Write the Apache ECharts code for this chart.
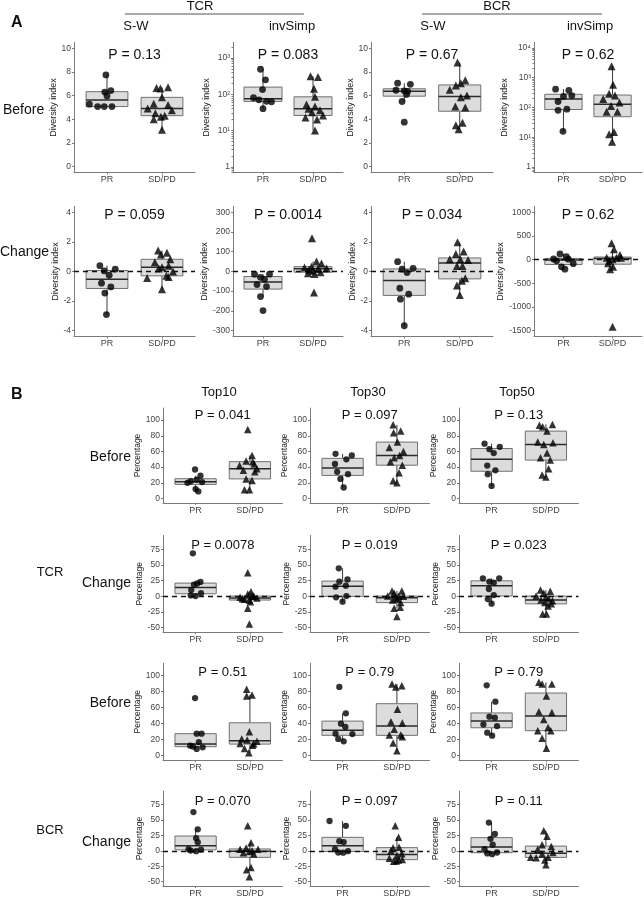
<!DOCTYPE html>
<html><head><meta charset="utf-8">
<script src="https://cdn.jsdelivr.net/npm/echarts@6/dist/echarts.min.js"></script>
<style>html,body{margin:0;padding:0;background:#fff}#c{width:644px;height:898px}</style>
</head><body><div id="c"></div>
<script>
// ---------------- DATA ----------------
const groups = ['PR', 'SD/PD'];

// Panel A: diversity indices, Before
const tcrSWBeforePR = [7.75, 6.42, 6.3, 5.97, 5.27, 5.07, 5.07, 5.07];
const tcrSWBeforePRJit = [-0.02, 0.07, -0.04, 0.0, -0.32, -0.17, -0.05, 0.09];
const tcrSWBeforeSD = [6.7, 6.65, 6.6, 5.85, 5.3, 5.2, 4.9, 4.75, 4.5, 4.3, 4.2, 4.0, 3.1];
const tcrSWBeforeSDJit = [0.11, -0.1, -0.03, 0.0, -0.15, 0.11, -0.26, 0.18, -0.12, 0.05, -0.02, -0.15, 0.0];

const tcrInvBeforePR = [490, 250, 135, 80, 70, 64, 62, 40];
const tcrInvBeforePRJit = [-0.05, 0.05, -0.01, -0.19, -0.08, 0.07, 0.17, 0.0];
const tcrInvBeforeSD = [316, 300, 141, 85, 52, 46, 40, 36, 32, 26, 23, 20, 10];
const tcrInvBeforeSDJit = [-0.05, 0.1, 0.02, 0.04, -0.13, 0.04, -0.09, 0.14, -0.02, 0.2, -0.15, 0.08, 0.04];

const bcrSWBeforePR = [7.05, 6.95, 6.45, 6.4, 6.35, 6.1, 5.5, 3.75];
const bcrSWBeforePRJit = [-0.12, 0.11, -0.15, 0.0, 0.06, 0.04, -0.04, 0.0];
const bcrSWBeforeSD = [8.8, 7.3, 7.05, 6.85, 6.5, 6.0, 5.85, 5.07, 5.0, 3.7, 3.5, 3.15];
const bcrSWBeforeSDJit = [-0.04, 0.1, 0.02, -0.07, -0.18, 0.13, 0.02, -0.08, 0.1, 0.05, -0.07, -0.02];

const bcrInvBeforePR = [410, 370, 250, 234, 158, 87, 80, 15.8];
const bcrInvBeforePRJit = [-0.16, 0.11, 0.17, 0.0, -0.11, 0.07, -0.11, -0.01];
const bcrInvBeforeSD = [2400, 575, 288, 251, 190, 145, 112, 72, 72, 15.1, 12.6, 7.1];
const bcrInvBeforeSDJit = [-0.02, 0.01, -0.07, 0.05, -0.19, 0.14, -0.03, -0.12, 0.1, 0.03, -0.07, -0.01];

// Panel A: diversity indices, Change
const tcrSWChangePR = [0.39, 0.15, 0.03, -0.26, -0.8, -1.05, -1.47, -2.92];
const tcrSWChangePRJit = [-0.13, 0.15, -0.05, 0.04, -0.1, 0.07, -0.04, -0.01];
const tcrSWChangeSD = [1.41, 1.27, 1.15, 0.82, 0.62, 0.38, 0.28, 0.2, 0.0, -0.3, -0.38, -0.44, -1.2];
const tcrSWChangeSDJit = [-0.07, 0.09, -0.02, 0.15, -0.13, 0.12, 0.0, -0.06, 0.2, 0.08, 0.12, -0.27, 0.0];

const tcrInvChangePR = [-14, -14, -30, -40, -67, -77, -128, -199];
const tcrInvChangePRJit = [-0.17, 0.13, -0.05, 0.03, -0.12, 0.07, -0.05, 0.0];
const tcrInvChangeSD = [168, 50, 40, 24, 20, 16, 13, 8, 3, -4, -9, -13, -107];
const tcrInvChangeSDJit = [-0.02, 0.07, 0.17, -0.03, -0.17, 0.27, 0.1, -0.08, 0.0, 0.15, -0.1, 0.03, 0.02];

const bcrSWChangePR = [0.66, 0.21, 0.15, -0.08, -1.14, -1.54, -1.88, -3.68];
const bcrSWChangePRJit = [-0.12, 0.16, -0.04, 0.05, -0.08, 0.08, -0.07, 0.0];
const bcrSWChangeSD = [1.97, 1.34, 1.18, 0.82, 0.82, 0.78, 0.37, 0.37, -0.46, -0.64, -0.96, -1.59];
const bcrSWChangeSDJit = [-0.04, 0.07, -0.07, -0.18, 0.01, 0.15, -0.05, 0.05, 0.1, 0.04, -0.05, 0.0];

const bcrInvChangePR = [120, 63, 14, 10, -25, -85, -150, -200];
const bcrInvChangePRJit = [-0.07, 0.06, -0.2, 0.1, -0.14, 0.2, -0.04, 0.03];
const bcrInvChangeSD = [345, 218, 100, 42, 42, 42, 10, -20, -77, -150, -204, -1415];
const bcrInvChangeSDJit = [-0.02, 0.03, 0.15, -0.12, 0.08, 0.17, 0.0, -0.07, -0.09, 0.01, -0.05, 0.0];

// Panel B: clonality (percentage of top clones), TCR
const tcrTop10BeforePR = [37, 29, 24, 22, 21, 20, 12, 9];
const tcrTop10BeforePRJit = [-0.01, 0.09, 0.02, -0.09, 0.12, -0.15, 0.0, 0.05];
const tcrTop10BeforeSD = [88, 55, 48, 47, 44, 42, 38, 36, 34, 25, 23, 11, 11];
const tcrTop10BeforeSDJit = [-0.04, 0.04, -0.07, 0.05, 0.08, -0.19, 0.13, -0.12, 0.09, -0.07, 0.04, -0.1, -0.01];
const tcrTop30BeforePR = [57, 55, 50, 44, 34, 31, 25, 14];
const tcrTop30BeforePRJit = [-0.13, 0.17, 0.07, -0.14, -0.1, 0.1, -0.04, 0.02];
const tcrTop30BeforeSD = [94, 86, 84, 72, 65, 60, 55, 52, 47, 42.5, 33, 22.5, 20];
const tcrTop30BeforeSDJit = [-0.07, 0.07, -0.06, 0.01, -0.14, 0.12, 0.05, -0.05, -0.12, 0.1, 0.04, -0.07, 0.0];
const tcrTop50BeforePR = [70, 66, 63, 58, 42, 36, 31, 16];
const tcrTop50BeforePRJit = [-0.13, 0.15, -0.04, 0.04, -0.08, 0.07, -0.07, 0.0];
const tcrTop50BeforeSD = [94.5, 93.5, 91.5, 86, 72, 71, 69, 58, 52, 49, 38, 30, 27.5];
const tcrTop50BeforeSDJit = [0.12, -0.12, -0.06, 0.02, -0.15, 0.13, -0.04, 0.02, -0.1, 0.08, 0.05, -0.07, 0.0];

const tcrTop10ChangePR = [68.6, 23, 20.5, 18.5, 10, 5, 1.5, 0.5];
const tcrTop10ChangePRJit = [-0.05, 0.09, 0.03, -0.03, -0.08, 0.1, -0.09, 0.0];
const tcrTop10ChangeSD = [37.8, 7.4, 3.7, 0.5, 0, -1.6, -2.7, -4, -4.8, -5.9, -8.5, -19, -44];
const tcrTop10ChangeSDJit = [-0.04, 0.02, -0.04, 0.07, 0.04, -0.18, 0.13, -0.14, -0.1, -0.01, 0.01, -0.04, -0.01];
const tcrTop30ChangePR = [44.7, 27, 23.4, 17, 15.4, 0.5, -1.6, -8.5];
const tcrTop30ChangePRJit = [-0.07, 0.09, -0.06, 0.06, -0.13, 0.07, -0.12, 0.0];
const tcrTop30ChangeSD = [8.5, 8.5, 4.8, 0.5, 0.3, 0, -2.1, -4.3, -6, -10, -17.5, -19, -32];
const tcrTop30ChangeSDJit = [-0.09, 0.09, -0.05, -0.17, 0.12, 0.03, -0.02, 0.01, -0.08, 0.07, 0.06, -0.05, 0.0];
const tcrTop50ChangePR = [28.7, 28.7, 23.4, 21.8, 11.7, 2.1, -4.3, -11.7];
const tcrTop50ChangePRJit = [-0.16, 0.14, -0.04, 0.04, -0.05, 0.04, -0.07, 0.0];
const tcrTop50ChangeSD = [10, 8, 5, 0.5, -1, -4, -5.9, -7, -10, -12, -15.4, -28, -28];
const tcrTop50ChangeSDJit = [-0.1, 0.08, -0.04, -0.18, 0.0, 0.05, -0.09, 0.12, -0.02, 0.1, 0.04, -0.06, 0.01];

// Panel B: BCR
const bcrTop10BeforePR = [72, 27.5, 27.5, 17, 12.5, 11.5, 10.5, 8.5];
const bcrTop10BeforePRJit = [-0.01, 0.02, 0.11, 0.06, -0.1, -0.05, 0.13, 0.02];
const bcrTop10BeforeSD = [83, 76, 74.6, 30, 21, 19.6, 18, 15.4, 15, 13, 9, 3.7];
const bcrTop10BeforeSDJit = [-0.06, 0.04, -0.06, -0.01, -0.15, -0.05, 0.13, -0.18, 0.07, 0.05, -0.1, -0.02];
const bcrTop30BeforePR = [86, 53, 40, 36, 27.5, 27, 21, 18];
const bcrTop30BeforePRJit = [-0.06, 0.06, -0.03, 0.05, -0.13, 0.18, -0.08, 0.02];
const bcrTop30BeforeSD = [89.6, 87.5, 86, 58, 42.5, 41, 33, 26, 26, 23.75, 16, 6.25];
const bcrTop30BeforeSDJit = [-0.09, 0.09, -0.02, 0.01, -0.11, 0.1, -0.05, -0.14, 0.07, 0.1, -0.07, 0.0];
const bcrTop50BeforePR = [88, 67.5, 48.75, 47.5, 39, 37, 28.75, 25];
const bcrTop50BeforePRJit = [-0.09, 0.07, -0.04, 0.06, -0.15, 0.1, -0.08, 0.01];
const bcrTop50BeforeSD = [91.7, 89.6, 89.6, 74.6, 55, 54, 45.4, 35.4, 31.25, 31.25, 21.7, 9.2];
const bcrTop50BeforeSDJit = [-0.13, -0.07, 0.11, 0.01, -0.13, 0.11, -0.04, 0.04, -0.15, 0.09, -0.07, 0.01];

const bcrTop10ChangePR = [63, 35, 20.5, 14, 2.6, 2, 0.5, -0.5];
const bcrTop10ChangePRJit = [-0.04, 0.04, 0.01, 0.04, -0.13, 0.1, -0.09, 0.01];
const bcrTop10ChangeSD = [40.6, 13, 4.7, 2.6, 2.6, 0, -1, -3, -5, -27, -30.6, -42];
const bcrTop10ChangeSDJit = [-0.04, 0.02, -0.07, -0.18, 0.15, 0.04, -0.01, -0.12, 0.07, 0.02, -0.06, -0.01];
const bcrTop30ChangePR = [48.5, 40.6, 15.8, 14.2, 2.6, -0.5, -2.6, -3];
const bcrTop30ChangePRJit = [-0.24, 0.06, -0.06, 0.02, -0.14, 0.1, -0.08, 0.01];
const bcrTop30ChangeSD = [40.6, 22, 6, 5, 0, -4.5, -7, -12, -14, -15, -16.4, -17];
const bcrTop30ChangeSDJit = [-0.03, 0.03, 0.04, -0.07, -0.11, 0.09, 0.0, -0.14, 0.1, 0.03, -0.01, -0.06];
const bcrTop50ChangePR = [46, 27.4, 19.5, 10, 2.6, -2.6, -4.2, -5.3];
const bcrTop50ChangePRJit = [-0.05, 0.06, -0.02, 0.02, -0.13, 0.1, -0.08, 0.01];
const bcrTop50ChangeSD = [32.7, 23.7, 10, 7, 2.6, -2.5, -5, -10.5, -10.5, -11, -14.8, -22.7];
const bcrTop50ChangeSDJit = [-0.04, 0.02, -0.07, 0.1, -0.15, 0.13, -0.07, -0.28, 0.04, -0.18, -0.02, 0.0];

// p-values
const pValuesA = ['0.13', '0.083', '0.67', '0.62', '0.059', '0.0014', '0.034', '0.62'];
const pValuesB = ['0.041', '0.097', '0.13', '0.0078', '0.019', '0.023', '0.51', '0.79', '0.79', '0.070', '0.097', '0.11'];

// tick labels
const ticksSW = [0, 2, 4, 6, 8, 10];
const ticksSWChange = [-4, -2, 0, 2, 4];
const ticksLogTCR = [1, 10, 100, 1000];
const ticksLogBCR = [1, 10, 100, 1000, 10000];
const ticksInvChangeTCR = [-300, -200, -100, 0, 100, 200, 300];
const ticksInvChangeBCR = [-1500, -1000, -500, 0, 500, 1000];
const ticksPct = [0, 20, 40, 60, 80, 100];
const ticksPctChange = [-50, -25, 0, 25, 50, 75];

// ---------------- LAYOUT / STYLE ----------------
const FONT = '"Liberation Sans", Arial, Helvetica, sans-serif';
const AXIS = '#7a7a7a';
const LABEL = '#444';
const BOXW = 0.76;
const A_LEFT = [74, 233, 371, 534], A_W = [121, 110, 122, 108], A_TOP = [42.4, 206.4], A_H = 130;
const A_NAMEGAP = [10, 22, 10, 25];
const B_LEFT = [163, 310, 459], B_W = 119.5, B_TOP = [408, 535.5, 663.3, 791.1], B_H = [94.8, 96.6, 96.8, 97.3];

function S(pr, prJ, sd, sdJ) { return {pr, prJ, sd, sdJ}; }
const panels = [
  // A row 1
  Object.assign(S(tcrSWBeforePR, tcrSWBeforePRJit, tcrSWBeforeSD, tcrSWBeforeSDJit), {sec:'A', r:0, c:0, y:[-0.5, 10.5], ticks:ticksSW, p:pValuesA[0]}),
  Object.assign(S(tcrInvBeforePR, tcrInvBeforePRJit, tcrInvBeforeSD, tcrInvBeforeSDJit), {sec:'A', r:0, c:1, log:true, y:[-0.155, 3.43], ticks:ticksLogTCR, p:pValuesA[1]}),
  Object.assign(S(bcrSWBeforePR, bcrSWBeforePRJit, bcrSWBeforeSD, bcrSWBeforeSDJit), {sec:'A', r:0, c:2, y:[-0.5, 10.5], ticks:ticksSW, p:pValuesA[2]}),
  Object.assign(S(bcrInvBeforePR, bcrInvBeforePRJit, bcrInvBeforeSD, bcrInvBeforeSDJit), {sec:'A', r:0, c:3, log:true, y:[-0.18, 4.18], ticks:ticksLogBCR, p:pValuesA[3]}),
  // A row 2
  Object.assign(S(tcrSWChangePR, tcrSWChangePRJit, tcrSWChangeSD, tcrSWChangeSDJit), {sec:'A', r:1, c:0, y:[-4.4, 4.4], ticks:ticksSWChange, dash:true, p:pValuesA[4]}),
  Object.assign(S(tcrInvChangePR, tcrInvChangePRJit, tcrInvChangeSD, tcrInvChangeSDJit), {sec:'A', r:1, c:1, y:[-330, 330], ticks:ticksInvChangeTCR, dash:true, p:pValuesA[5]}),
  Object.assign(S(bcrSWChangePR, bcrSWChangePRJit, bcrSWChangeSD, bcrSWChangeSDJit), {sec:'A', r:1, c:2, y:[-4.4, 4.4], ticks:ticksSWChange, dash:true, p:pValuesA[6]}),
  Object.assign(S(bcrInvChangePR, bcrInvChangePRJit, bcrInvChangeSD, bcrInvChangeSDJit), {sec:'A', r:1, c:3, y:[-1620, 1125], ticks:ticksInvChangeBCR, dash:true, p:pValuesA[7]}),
  // B row 1 (TCR before)
  Object.assign(S(tcrTop10BeforePR, tcrTop10BeforePRJit, tcrTop10BeforeSD, tcrTop10BeforeSDJit), {sec:'B', r:0, c:0, y:[-5.5, 115.5], ticks:ticksPct, p:pValuesB[0]}),
  Object.assign(S(tcrTop30BeforePR, tcrTop30BeforePRJit, tcrTop30BeforeSD, tcrTop30BeforeSDJit), {sec:'B', r:0, c:1, y:[-5.5, 115.5], ticks:ticksPct, p:pValuesB[1]}),
  Object.assign(S(tcrTop50BeforePR, tcrTop50BeforePRJit, tcrTop50BeforeSD, tcrTop50BeforeSDJit), {sec:'B', r:0, c:2, y:[-5.5, 115.5], ticks:ticksPct, p:pValuesB[2]}),
  // B row 2 (TCR change)
  Object.assign(S(tcrTop10ChangePR, tcrTop10ChangePRJit, tcrTop10ChangeSD, tcrTop10ChangeSDJit), {sec:'B', r:1, c:0, y:[-57, 97], ticks:ticksPctChange, dash:true, p:pValuesB[3]}),
  Object.assign(S(tcrTop30ChangePR, tcrTop30ChangePRJit, tcrTop30ChangeSD, tcrTop30ChangeSDJit), {sec:'B', r:1, c:1, y:[-57, 97], ticks:ticksPctChange, dash:true, p:pValuesB[4]}),
  Object.assign(S(tcrTop50ChangePR, tcrTop50ChangePRJit, tcrTop50ChangeSD, tcrTop50ChangeSDJit), {sec:'B', r:1, c:2, y:[-57, 97], ticks:ticksPctChange, dash:true, p:pValuesB[5]}),
  // B row 3 (BCR before)
  Object.assign(S(bcrTop10BeforePR, bcrTop10BeforePRJit, bcrTop10BeforeSD, bcrTop10BeforeSDJit), {sec:'B', r:2, c:0, y:[-5.5, 115.5], ticks:ticksPct, p:pValuesB[6]}),
  Object.assign(S(bcrTop30BeforePR, bcrTop30BeforePRJit, bcrTop30BeforeSD, bcrTop30BeforeSDJit), {sec:'B', r:2, c:1, y:[-5.5, 115.5], ticks:ticksPct, p:pValuesB[7]}),
  Object.assign(S(bcrTop50BeforePR, bcrTop50BeforePRJit, bcrTop50BeforeSD, bcrTop50BeforeSDJit), {sec:'B', r:2, c:2, y:[-5.5, 115.5], ticks:ticksPct, p:pValuesB[8]}),
  // B row 4 (BCR change)
  Object.assign(S(bcrTop10ChangePR, bcrTop10ChangePRJit, bcrTop10ChangeSD, bcrTop10ChangeSDJit), {sec:'B', r:3, c:0, y:[-57, 97], ticks:ticksPctChange, dash:true, p:pValuesB[9]}),
  Object.assign(S(bcrTop30ChangePR, bcrTop30ChangePRJit, bcrTop30ChangeSD, bcrTop30ChangeSDJit), {sec:'B', r:3, c:1, y:[-57, 97], ticks:ticksPctChange, dash:true, p:pValuesB[10]}),
  Object.assign(S(bcrTop50ChangePR, bcrTop50ChangePRJit, bcrTop50ChangeSD, bcrTop50ChangeSDJit), {sec:'B', r:3, c:2, y:[-57, 97], ticks:ticksPctChange, dash:true, p:pValuesB[11]})
];
const P_Y_A = [55, 215];
const P_Y_B = [415, 545, 672, 801];

// ---------------- HELPERS ----------------
function quantile(s, p) { const h = (s.length - 1) * p, lo = Math.floor(h), hi = Math.ceil(h); return s[lo] + (h - lo) * (s[hi] - s[lo]); }
function boxStats(vals) {
  const s = vals.slice().sort((a, b) => a - b);
  const q1 = quantile(s, 0.25), med = quantile(s, 0.5), q3 = quantile(s, 0.75), iqr = q3 - q1;
  const lo = s.find(v => v >= q1 - 1.5 * iqr);
  const hi = s.slice().reverse().find(v => v <= q3 + 1.5 * iqr);
  return [lo, q1, med, q3, hi];
}
const SUP = {1:'\u00b9', 2:'\u00b2', 3:'\u00b3', 4:'\u2074'};
function renderBox(params, api) {
  const x = api.value(0), lw = api.value(1), q1 = api.value(2), med = api.value(3), q3 = api.value(4), uw = api.value(5);
  const hw = BOXW / 2;
  const tl = api.coord([x - hw, q3]), br = api.coord([x + hw, q1]);
  const m1 = api.coord([x - hw, med]), m2 = api.coord([x + hw, med]);
  const wt = api.coord([x, uw]), w3 = api.coord([x, q3]), wb = api.coord([x, lw]), w1 = api.coord([x, q1]);
  return {type:'group', children:[
    {type:'line', shape:{x1:wt[0], y1:wt[1], x2:w3[0], y2:w3[1]}, style:{stroke:'#3a3a3a', lineWidth:1}},
    {type:'line', shape:{x1:wb[0], y1:wb[1], x2:w1[0], y2:w1[1]}, style:{stroke:'#3a3a3a', lineWidth:1}},
    {type:'rect', shape:{x:tl[0], y:tl[1], width:br[0] - tl[0], height:br[1] - tl[1]}, style:{fill:'#dcdcdc', stroke:'#707070', lineWidth:1}},
    {type:'line', shape:{x1:m1[0], y1:m1[1], x2:m2[0], y2:m2[1]}, style:{stroke:'#2b2b2b', lineWidth:1.5}}
  ]};
}

// ---------------- BUILD ----------------
const option = {animation:false, backgroundColor:'#fff', textStyle:{fontFamily:FONT}, grid:[], xAxis:[], yAxis:[], series:[], graphic:[]};

panels.forEach((P, i) => {
  const isA = P.sec === 'A';
  const left = isA ? A_LEFT[P.c] : B_LEFT[P.c];
  const width = isA ? A_W[P.c] : B_W;
  const top = isA ? A_TOP[P.r] : B_TOP[P.r];
  const height = isA ? A_H : B_H[P.r];
  const tr = P.log ? (v => Math.log10(v)) : (v => v);
  const tickVals = P.ticks.map(tr);
  option.grid.push({left, top, width, height});
  option.xAxis.push({
    type:'value', gridIndex:i, min:0.4, max:2.6,
    axisLine:{show:true, onZero:false, lineStyle:{color:AXIS, width:1}},
    axisTick:{show:true, customValues:[1, 2], length:2, lineStyle:{color:AXIS}},
    axisLabel:{customValues:[1, 2], formatter:v => groups[Math.round(v) - 1], color:LABEL, fontSize:9, margin:3, fontFamily:FONT},
    splitLine:{show:false}
  });
  const yi = option.yAxis.length;
  option.yAxis.push({
    type:'value', gridIndex:i, min:P.y[0], max:P.y[1], position:'left',
    name:isA ? 'Diversity index' : 'Percentage', nameLocation:'middle', nameGap:isA ? A_NAMEGAP[P.c] : 11,
    nameTextStyle:{fontSize:isA ? 9 : 8.5, color:'#222', fontFamily:FONT},
    axisLine:{show:true, onZero:false, lineStyle:{color:AXIS, width:1}},
    axisTick:{show:true, customValues:tickVals, length:2, lineStyle:{color:AXIS}},
    axisLabel:{customValues:tickVals, color:LABEL, fontSize:8.5, margin:3, fontFamily:FONT,
      formatter:v => P.log ? (Math.round(v) === 0 ? '1' : '10' + SUP[Math.round(v)]) : String(v)},
    splitLine:{show:false}
  });
  if (P.log) {
    const minor = [];
    for (let e = Math.floor(P.y[0]); e <= Math.ceil(P.y[1]); e++) for (let k = 2; k <= 9; k++) { const v = e + Math.log10(k); if (v > P.y[0] && v < P.y[1]) minor.push(v); }
    option.yAxis.push({type:'value', gridIndex:i, min:P.y[0], max:P.y[1], position:'left',
      axisLine:{show:false}, axisTick:{show:true, customValues:minor, length:1.5, lineStyle:{color:AXIS}},
      axisLabel:{show:false}, splitLine:{show:false}});
  }
  const prStats = boxStats(P.pr.map(tr)), sdStats = boxStats(P.sd.map(tr));
  option.series.push({type:'custom', xAxisIndex:i, yAxisIndex:yi, renderItem:renderBox, silent:true, z:2,
    encode:{x:0, y:[1, 2, 3, 4, 5]}, data:[[1].concat(prStats), [2].concat(sdStats)]});
  const ser = {type:'scatter', xAxisIndex:i, yAxisIndex:yi, symbol:'circle', symbolSize:isA ? 6.8 : 6.3, silent:true, z:4,
    itemStyle:{color:'#000'}, data:P.pr.map((v, k) => [1 + P.prJ[k], tr(v)])};
  if (P.dash) ser.markLine = {silent:true, symbol:'none', z:3, label:{show:false},
    lineStyle:{type:[5, 4], color:'#111', width:1.3}, data:[{yAxis:0}]};
  option.series.push(ser);
  option.series.push({type:'scatter', xAxisIndex:i, yAxisIndex:yi, symbol:'triangle', symbolSize:isA ? 8 : 7.5, silent:true, z:4,
    itemStyle:{color:'#000'}, data:P.sd.map((v, k) => [2 + P.sdJ[k], tr(v)])});
  option.graphic.push({type:'text', x:left + width / 2, y:isA ? P_Y_A[P.r] : P_Y_B[P.r], silent:true,
    style:{text:'P = ' + P.p, fontSize:isA ? 14 : 13, fontFamily:FONT, fill:'#111', align:'center', verticalAlign:'middle'}});
});

function T(text, x, y, size, opts) {
  return Object.assign({type:'text', x, y, silent:true,
    style:Object.assign({text, fontSize:size, fontFamily:FONT, fill:'#111', align:'center', verticalAlign:'middle'}, opts || {})});
}
option.graphic.push(
  T('A', 11, 23, 16, {fontWeight:'bold', align:'left'}),
  T('TCR', 200, 6, 13),
  {type:'line', silent:true, shape:{x1:125, y1:14, x2:304, y2:14}, style:{stroke:'#555', lineWidth:1}},
  T('BCR', 497, 6, 13),
  {type:'line', silent:true, shape:{x1:422, y1:14, x2:602, y2:14}, style:{stroke:'#555', lineWidth:1}},
  T('S-W', 136, 26, 13), T('invSimp', 292, 26, 13), T('S-W', 433, 26, 13), T('invSimp', 590, 26, 13),
  T('Before', 3, 110, 14, {align:'left'}),
  T('Change', 0, 252, 14, {align:'left'}),
  T('B', 11, 395, 16, {fontWeight:'bold', align:'left'}),
  T('Top10', 219, 392, 13), T('Top30', 368, 392, 13), T('Top50', 517, 392, 13),
  T('Before', 131, 457, 14, {align:'right'}),
  T('TCR', 50, 572, 13),
  T('Change', 131, 583, 14, {align:'right'}),
  T('Before', 131, 703, 14, {align:'right'}),
  T('BCR', 50, 830, 13),
  T('Change', 131, 842, 14, {align:'right'})
);

const chart = echarts.init(document.getElementById('c'), null, {renderer:'canvas'});
chart.setOption(option);
</script>
</body></html>
